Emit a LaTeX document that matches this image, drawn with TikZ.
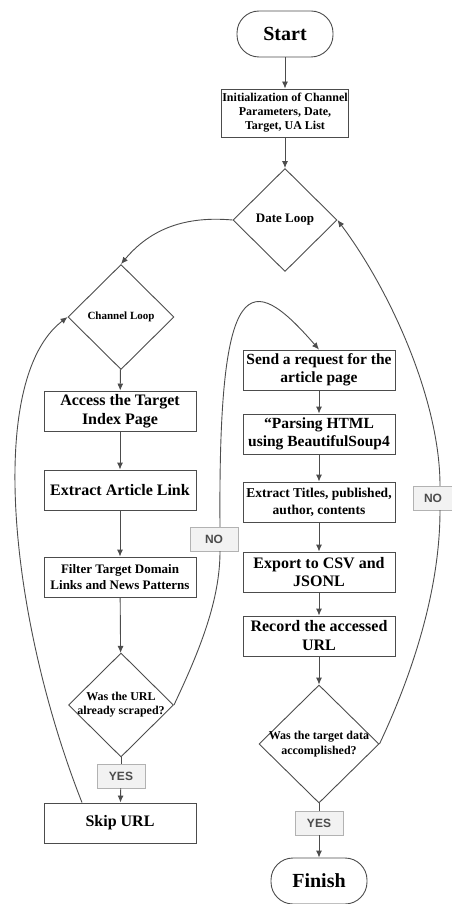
\documentclass[tikz,border=0pt]{standalone}
\usepackage{fontspec}
\setmainfont{Liberation Serif}
\newfontfamily\tagfont{Liberation Sans}
\usetikzlibrary{shapes.geometric,arrows.meta}

\begin{document}
\begin{tikzpicture}[x=1pt,y=-1pt,
    term/.style={draw=black!70,line width=0.9pt,rounded corners=22pt,minimum width=96pt,minimum height=46pt,font=\bfseries\fontsize{20}{22}\selectfont},
    proc/.style={draw=black!70,line width=0.9pt,align=center,minimum width=152pt,minimum height=40pt,inner sep=1pt},
    dec/.style={draw=black!70,line width=0.9pt,diamond,align=center,inner sep=-4pt},
    tag/.style={draw=black!30,fill=black!5,text=black!70,minimum width=48pt,minimum height=24pt,inner sep=0pt,font=\tagfont\bfseries\fontsize{12}{14}\selectfont},
    line/.style={draw=black!70,line width=0.9pt},
    arr/.style={line,-{Latex[length=7pt,width=6pt]}}]
  \useasboundingbox (0,0) rectangle (452,904);

  % main column
  \node[term] (start) at (285,34) {Start};
  \node[proc,minimum width=127pt,minimum height=48pt,font=\bfseries\fontsize{12}{14}\selectfont] (init) at (285,113) {Initialization of Channel\\Parameters, Date,\\Target, UA List};
  \node[dec,minimum width=104pt,minimum height=103pt,font=\bfseries\fontsize{13}{15}\selectfont] (date) at (285,220) {Date Loop};

  % left column
  \node[dec,minimum width=106pt,minimum height=105pt,font=\bfseries\fontsize{11}{13}\selectfont] (chan) at (121,317) {Channel Loop};
  \node[proc,font=\bfseries\fontsize{16}{19}\selectfont] (access) at (120,411) {Access the Target\\Index Page};
  \node[proc,font=\bfseries\fontsize{16}{19}\selectfont] (extract) at (120,490) {Extract Article Link};
  \node[proc,font=\bfseries\fontsize{13}{16}\selectfont] (filter) at (120,577) {Filter Target Domain\\Links and News Patterns};
  \node[dec,minimum width=105pt,minimum height=104pt,font=\bfseries\fontsize{12}{14}\selectfont] (urlq) at (121,705) {Was the URL\\already scraped?};
  \node[tag] (yes1) at (121,776) {YES};
  \node[proc,font=\bfseries\fontsize{16}{19}\selectfont] (skip) at (120,823) {Skip URL};

  % right column
  \node[proc,font=\bfseries\fontsize{15.5}{18}\selectfont] (send) at (319,370) {Send a request for the\\article page};
  \node[proc,font=\bfseries\fontsize{15.5}{18}\selectfont] (parse) at (319,434) {“Parsing HTML\\using BeautifulSoup4};
  \node[proc,font=\bfseries\fontsize{13.5}{17}\selectfont] (titles) at (319,502) {Extract Titles, published,\\author, contents};
  \node[proc,font=\bfseries\fontsize{16}{18}\selectfont] (export) at (319,572) {Export to CSV and\\JSONL};
  \node[proc,font=\bfseries\fontsize{16}{19}\selectfont] (record) at (319,636) {Record the accessed\\URL};
  \node[dec,minimum width=120pt,minimum height=118pt,font=\bfseries\fontsize{12}{15}\selectfont] (targetq) at (319,744) {Was the target data\\accomplished?};
  \node[tag] (yes2) at (319,823) {YES};
  \node[term] (finish) at (319,881) {Finish};

  \node[tag] (no1) at (214,539) {NO};
  \node[tag,minimum width=40pt] (no2) at (433,498) {NO};

  \draw[arr] (start) -- (init);
  \draw[arr] (init) -- (date);
  \draw[arr] (date.west) to[out=175,in=50] (chan.north);
  \draw[arr] (chan) -- (access);
  \draw[arr] (access) -- (extract);
  \draw[arr] (extract) -- (filter);
  \draw[arr] (filter) -- (urlq);
  \draw[line] (urlq) -- (yes1);
  \draw[arr] (yes1) -- (skip);
  \draw[arr] ([xshift=-38pt]skip.north) .. controls (10,620) and (-15,380) .. (chan.west);
  \draw[line] (urlq.east) .. controls (200,650) and (220,600) .. ([xshift=6pt]no1.south);
  \draw[arr] ([xshift=6pt]no1.north) .. controls (218,270) and (250,270) .. (send.north);

  \draw[arr] (send) -- (parse);
  \draw[arr] (parse) -- (titles);
  \draw[arr] (titles) -- (export);
  \draw[arr] (export) -- (record);
  \draw[arr] (record) -- (targetq);
  \draw[line] (targetq) -- (yes2);
  \draw[arr] (yes2) -- (finish);
  \draw[line] (targetq.east) .. controls (405,690) and (440,600) .. ([xshift=7pt]no2.south);
  \draw[arr] ([xshift=7pt]no2.north) .. controls (440,400) and (390,290) .. (date.east);
\end{tikzpicture}
\end{document}
